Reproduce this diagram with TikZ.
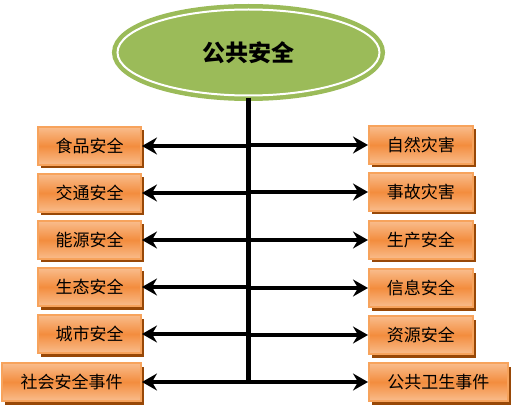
\documentclass[tikz,border=0pt]{standalone}
\usepackage{fontspec}
\newfontfamily\cjk{Noto Sans CJK SC}
\usetikzlibrary{shapes.geometric,shadows,arrows.meta}

\definecolor{leafgreen}{HTML}{9BBB59}
\definecolor{boxorange}{HTML}{F38D3E}
\definecolor{boxlight}{HTML}{F9BC8C}
\definecolor{boxline}{HTML}{F7A35C}
\definecolor{boxshadow}{HTML}{984807}

\tikzset{
    topic/.style={ellipse, fill=leafgreen, draw=leafgreen, double=white,
        double distance=2pt, line width=4.5pt, minimum width=262pt,
        minimum height=86pt, font=\cjk\bfseries\fontsize{23}{23}\selectfont},
    area/.style={rectangle, draw=boxline, line width=1.6pt, inner sep=0pt,
        top color=boxlight, bottom color=boxlight, middle color=boxorange,
        minimum height=38pt, text=black,
        font=\cjk\fontsize{17}{17}\selectfont,
        drop shadow={shadow xshift=3pt, shadow yshift=-3.5pt,
            fill=boxshadow, opacity=1}},
    link/.style={line width=3.4pt, -{Stealth[length=15pt,width=17pt,inset=5pt]}},
}

\begin{document}
\begin{tikzpicture}[x=1pt, y=-1pt]
    \useasboundingbox (0,0) rectangle (512,409);

    % Thème central
    \node[topic] (top) at (248.5,52.5) {公共安全};

    % Axe vertical
    \coordinate (base) at (248.5,383);
    \draw[line width=4.2pt] (top.south) -- (base);

    % Domaines à gauche
    \foreach \i/\y/\w/\txt in {1/146/103/食品安全, 2/193/103/交通安全,
            3/240/103/能源安全, 4/287/103/生态安全, 5/334/103/城市安全,
            6/382/139/社会安全事件} {
        \node[area, minimum width=\w pt, anchor=east] (L\i) at (142,\y) {\txt};
        \coordinate (jl\i) at (248.5,\y);
        \draw[link] (jl\i) -- (L\i.east);
    }

    % Domaines à droite
    \foreach \i/\y/\w/\txt in {1/145/104/自然灾害, 2/192/104/事故灾害,
            3/240/104/生产安全, 4/288/104/信息安全, 5/335/104/资源安全,
            6/382/139/公共卫生事件} {
        \node[area, minimum width=\w pt, anchor=west] (R\i) at (368,\y) {\txt};
        \coordinate (jr\i) at (248.5,\y);
        \draw[link] (jr\i) -- (R\i.west);
    }
\end{tikzpicture}
\end{document}
